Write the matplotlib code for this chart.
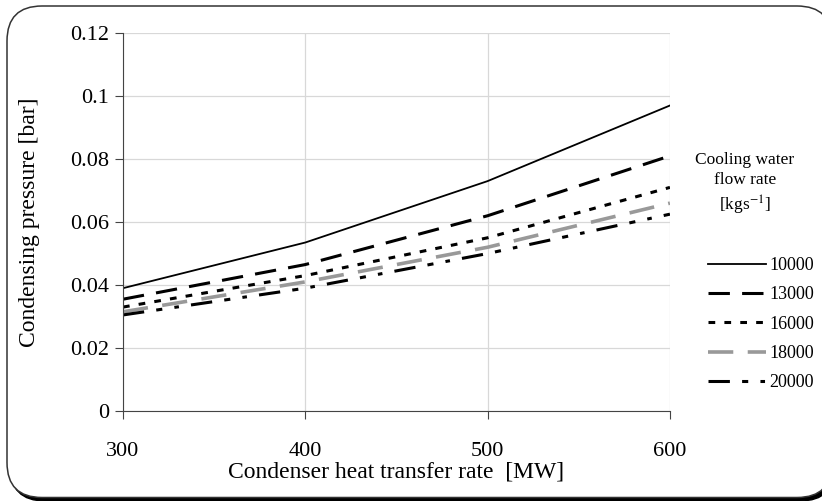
import matplotlib.pyplot as plt
from matplotlib.patches import FancyBboxPatch

plt.rcParams['font.family'] = ['Liberation Serif', 'DejaVu Serif']
plt.rcParams['mathtext.fontset'] = 'stix'

# heat transfer rate [MW]
heat_rate = [300, 400, 500, 600]
# condensing pressure [bar] for each cooling water flow rate
flow_labels = ['10000', '13000', '16000', '18000', '20000']
p_10000 = [0.039, 0.0535, 0.073, 0.097]
p_13000 = [0.0355, 0.0465, 0.062, 0.081]
p_16000 = [0.033, 0.043, 0.055, 0.071]
p_18000 = [0.0315, 0.041, 0.052, 0.066]
p_20000 = [0.0305, 0.039, 0.050, 0.0625]

fig = plt.figure(figsize=(8.22, 5.01), dpi=100)

# rounded frame with shadow (in inches, runs off the right edge)
shadow = FancyBboxPatch((0.10, 0.0), 8.25, 4.92, boxstyle="round,pad=0,rounding_size=0.35",
                        transform=fig.dpi_scale_trans, fc='black', ec='black', lw=1, zorder=0)
frame = FancyBboxPatch((0.07, 0.035), 8.25, 4.915, boxstyle="round,pad=0,rounding_size=0.35",
                       transform=fig.dpi_scale_trans, fc='white', ec='#333333', lw=1.1, zorder=1)
fig.patches.extend([shadow, frame])

ax = fig.add_axes([0.1496, 0.1796, 0.6654, 0.7544])
ax.set_zorder(2)
ax.patch.set_alpha(0)

ax.plot(heat_rate, p_10000, color='black', lw=1.3, ls='-', label=flow_labels[0])
ax.plot(heat_rate, p_13000, color='black', lw=2.2, ls=(0, (7, 4)), label=flow_labels[1])
ax.plot(heat_rate, p_16000, color='black', lw=2.2, ls=(0, (2.2, 3)), label=flow_labels[2])
ax.plot(heat_rate, p_18000, color='#999999', lw=2.6, ls=(0, (7, 4)), label=flow_labels[3])
ax.plot(heat_rate, p_20000, color='black', lw=2.2, ls=(0, (7, 4, 2, 4, 1.5, 4)), label=flow_labels[4])

ax.set_xlim(300, 600)
ax.set_ylim(0, 0.12)
ax.set_xticks([300, 400, 500, 600])
ax.set_yticks([0, 0.02, 0.04, 0.06, 0.08, 0.1, 0.12])
ax.set_yticklabels(['0', '0.02', '0.04', '0.06', '0.08', '0.1', '0.12'])
ax.grid(True, color='#d8d8d8', lw=0.9)
ax.set_axisbelow(True)
for s in ['top', 'right']:
    ax.spines[s].set_visible(False)
for s in ['left', 'bottom']:
    ax.spines[s].set_color('#444444')
ax.tick_params(axis='x', direction='out', length=6, pad=16, labelsize=16, color='#444444')
ax.tick_params(axis='y', direction='out', length=6, pad=4, labelsize=16, color='#444444')

ax.set_xlabel('Condenser heat transfer rate  [MW]', fontsize=17, labelpad=1)
ax.set_ylabel('Condensing pressure [bar]', fontsize=17, labelpad=22)

fig.text(0.906, 0.632, 'Cooling water\nflow rate\n[kgs$^{-1}$]', ha='center', va='center',
         fontsize=12.5, linespacing=1.35)

leg = ax.legend(loc='center left', bbox_to_anchor=(1.04, 0.23), frameon=False, fontsize=13,
                handlelength=3.2, handletextpad=0.2, labelspacing=0.68)

fig.savefig('out.png', dpi=100)
